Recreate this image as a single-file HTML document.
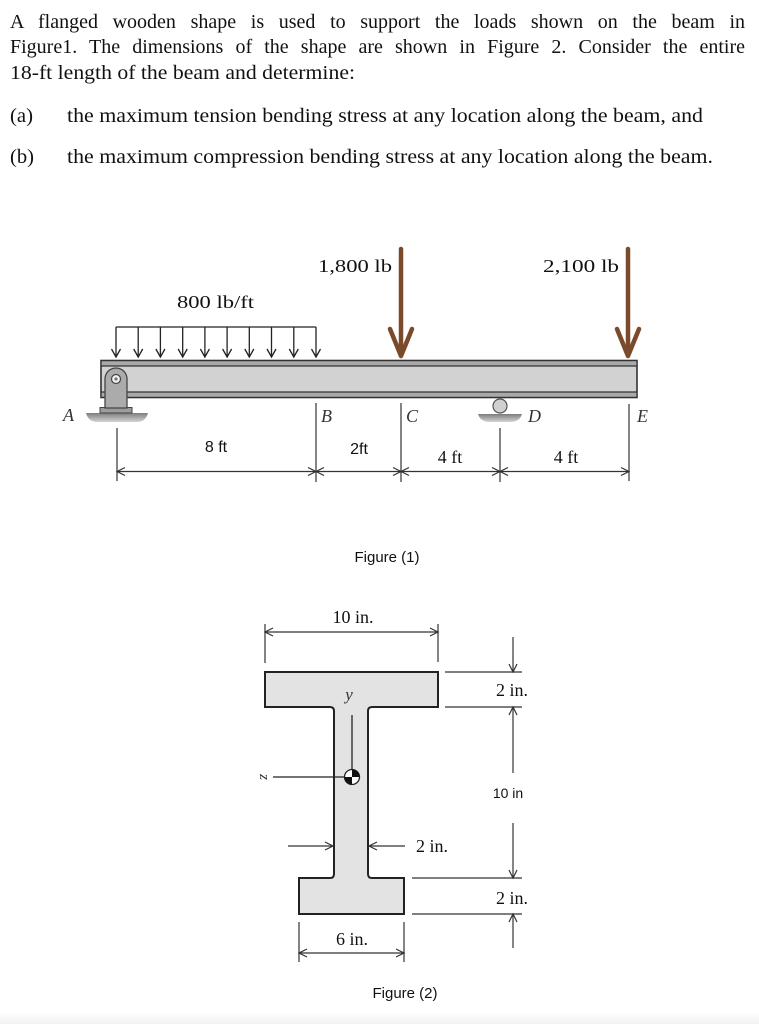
<!DOCTYPE html>
<html><head><meta charset="utf-8"><style>
html,body{margin:0;padding:0;background:#fff;}
svg{display:block;position:absolute;left:0;top:0;}
.s{font-family:"Liberation Serif",serif;fill:#111;}
.ss{font-family:"Liberation Sans",sans-serif;fill:#111;}
.i{font-family:"Liberation Serif",serif;font-style:italic;fill:#333;}
.jl{position:absolute;left:10px;width:735px;font-family:"Liberation Serif",serif;font-size:20px;line-height:20px;color:#111;text-align:justify;text-align-last:justify;white-space:normal;z-index:2;}
</style></head><body>
<div class="jl" style="top:12px;">A flanged wooden shape is used to support the loads shown on the beam in</div>
<div class="jl" style="top:37px;">Figure1. The dimensions of the shape are shown in Figure 2. Consider the entire</div>
<svg width="759" height="1024" viewBox="0 0 759 1024" xmlns="http://www.w3.org/2000/svg">
<defs>
<linearGradient id="gnd" x1="0" y1="0" x2="0" y2="1"><stop offset="0" stop-color="#7d7d7d"/><stop offset="1" stop-color="#d5d5d5"/></linearGradient>
<linearGradient id="bot" x1="0" y1="0" x2="0" y2="1"><stop offset="0" stop-color="#ffffff"/><stop offset="1" stop-color="#f1f1f1"/></linearGradient>
</defs>
<rect x="0" y="1012" width="759" height="12" fill="url(#bot)"/>

<!-- Problem text -->
<text class="s" font-size="20" x="10" y="79" textLength="345" lengthAdjust="spacingAndGlyphs">18-ft length of the beam and determine:</text>
<text class="s" font-size="20" x="10" y="122" textLength="23" lengthAdjust="spacingAndGlyphs">(a)</text>
<text class="s" font-size="20" x="67" y="122" textLength="636" lengthAdjust="spacingAndGlyphs">the maximum tension bending stress at any location along the beam, and</text>
<text class="s" font-size="20" x="10" y="163" textLength="24" lengthAdjust="spacingAndGlyphs">(b)</text>
<text class="s" font-size="20" x="67" y="163" textLength="646" lengthAdjust="spacingAndGlyphs">the maximum compression bending stress at any location along the beam.</text>

<!-- Figure 1 -->
<text class="s" font-size="18" x="318" y="272" textLength="74" lengthAdjust="spacingAndGlyphs">1,800 lb</text>
<text class="s" font-size="18" x="543" y="272" textLength="76" lengthAdjust="spacingAndGlyphs">2,100 lb</text>
<text class="s" font-size="18" x="177" y="308" textLength="77" lengthAdjust="spacingAndGlyphs">800 lb/ft</text>

<!-- distributed load -->
<g stroke="#222" stroke-width="1.3" fill="none">
<line x1="116" y1="327" x2="316" y2="327"/>
<g id="da">
<line x1="116" y1="327" x2="116" y2="357"/>
<polyline points="111.5,349 116,357 120.5,349"/>
</g>
<use href="#da" x="22.2"/><use href="#da" x="44.4"/><use href="#da" x="66.7"/><use href="#da" x="88.9"/>
<use href="#da" x="111.1"/><use href="#da" x="133.3"/><use href="#da" x="155.5"/><use href="#da" x="177.8"/><use href="#da" x="200"/>
</g>

<!-- brown point loads -->
<g stroke="#7a4a2b" stroke-width="4.5" fill="none" stroke-linecap="round" stroke-linejoin="round">
<line x1="401" y1="249" x2="401" y2="354"/>
<polyline points="390,329 401,356 412,329"/>
<line x1="628" y1="249" x2="628" y2="354"/>
<polyline points="617,329 628,356 639,329"/>
</g>

<!-- beam -->
<rect x="101" y="360.5" width="536" height="37" fill="#d2d2d2" stroke="#333" stroke-width="1.6"/>
<rect x="101.8" y="361.5" width="534.4" height="4" fill="#a9a9a9"/>
<rect x="101.8" y="392.5" width="534.4" height="4" fill="#a9a9a9"/>
<line x1="101" y1="366" x2="637" y2="366" stroke="#333" stroke-width="1.3"/>
<line x1="101" y1="392" x2="637" y2="392" stroke="#333" stroke-width="1.3"/>

<!-- pin support A -->
<path d="M86,413 H148 Q146,421 138,422 H96 Q88,421 86,413 Z" fill="url(#gnd)"/>
<rect x="100" y="407.5" width="32" height="5.5" fill="#9c9c9c" stroke="#444" stroke-width="1"/>
<path d="M105,408 V379 A11,11 0 0 1 127,379 V408 Z" fill="#ababab" stroke="#444" stroke-width="1.3"/>
<circle cx="116" cy="379" r="4.5" fill="#f2f2f2" stroke="#444" stroke-width="1.2"/>
<circle cx="116" cy="379" r="1.6" fill="#777"/>

<!-- roller D -->
<circle cx="500" cy="406" r="7" fill="#d0d0d0" stroke="#555" stroke-width="1.2"/>
<path d="M478,414 H522 Q520,421 512,422 H488 Q480,421 478,414 Z" fill="url(#gnd)"/>

<!-- labels -->
<text class="i" font-size="18" x="63" y="421">A</text>
<text class="i" font-size="18" x="321" y="422">B</text>
<text class="i" font-size="18" x="406" y="422">C</text>
<text class="i" font-size="18" x="528" y="422">D</text>
<text class="i" font-size="18" x="637" y="422">E</text>

<!-- dimension lines -->
<g stroke="#333" stroke-width="1.2" fill="none">
<line x1="117" y1="428" x2="117" y2="481"/>
<line x1="316" y1="403" x2="316" y2="482"/>
<line x1="401" y1="403" x2="401" y2="482"/>
<line x1="500" y1="428" x2="500" y2="482"/>
<line x1="629" y1="404" x2="629" y2="481"/>
<line x1="117" y1="471.5" x2="629" y2="471.5"/>
<polyline points="125,467.5 117,471.5 125,475.5"/>
<polyline points="621,467.5 629,471.5 621,475.5"/>
<polyline points="308,467.5 316,471.5 308,475.5"/><polyline points="324,467.5 316,471.5 324,475.5"/>
<polyline points="393,467.5 401,471.5 393,475.5"/><polyline points="409,467.5 401,471.5 409,475.5"/>
<polyline points="492,467.5 500,471.5 492,475.5"/><polyline points="508,467.5 500,471.5 508,475.5"/>
</g>
<text class="ss" font-size="16" x="216" y="452" text-anchor="middle">8 ft</text>
<text class="ss" font-size="16" x="359" y="454" text-anchor="middle">2ft</text>
<text class="s" font-size="18" x="450" y="463" text-anchor="middle">4 ft</text>
<text class="s" font-size="18" x="566" y="463" text-anchor="middle">4 ft</text>

<text class="ss" font-size="15" x="387" y="562" text-anchor="middle">Figure (1)</text>

<!-- Figure 2 -->
<text class="s" font-size="18" x="353" y="623" text-anchor="middle">10 in.</text>
<g stroke="#333" stroke-width="1.2" fill="none">
<line x1="265" y1="624" x2="265" y2="663"/>
<line x1="438" y1="624" x2="438" y2="662"/>
<line x1="265" y1="632" x2="438" y2="632"/>
<polyline points="273,628 265,632 273,636"/>
<polyline points="430,628 438,632 430,636"/>
</g>

<path d="M265,672 H438 V707 H372 Q368,707 368,711 V874 Q368,878 372,878 H404 V914 H299 V878 H330 Q334,878 334,874 V711 Q334,707 330,707 H265 Z" fill="#e3e3e3" stroke="#222" stroke-width="2"/>

<text class="i" font-size="17" x="349" y="700" text-anchor="middle">y</text>
<g stroke="#222" stroke-width="1.3" fill="none">
<line x1="352" y1="715" x2="352" y2="770"/>
<line x1="273" y1="777" x2="344" y2="777"/>
</g>
<circle cx="352" cy="777" r="7.5" fill="#fff" stroke="#222" stroke-width="1.3"/>
<path d="M352,777 V769.5 A7.5,7.5 0 0 1 359.5,777 Z" fill="#111"/>
<path d="M352,777 V784.5 A7.5,7.5 0 0 1 344.5,777 Z" fill="#111"/>
<text class="i" font-size="15" x="0" y="0" text-anchor="middle" transform="translate(260,777) rotate(90)">z</text>

<!-- web thickness -->
<g stroke="#333" stroke-width="1.2" fill="none">
<line x1="288" y1="846" x2="333" y2="846"/>
<polyline points="325,842 333,846 325,850"/>
<line x1="369" y1="846" x2="405" y2="846"/>
<polyline points="377,842 369,846 377,850"/>
</g>
<text class="s" font-size="18" x="416" y="852">2 in.</text>

<!-- right dims -->
<g stroke="#333" stroke-width="1.2" fill="none">
<line x1="445" y1="672" x2="522" y2="672"/>
<line x1="445" y1="707" x2="522" y2="707"/>
<line x1="412" y1="878" x2="522" y2="878"/>
<line x1="412" y1="914" x2="522" y2="914"/>
<line x1="513" y1="637" x2="513" y2="672"/>
<polyline points="509,664 513,672 517,664"/>
<line x1="513" y1="707" x2="513" y2="773"/>
<polyline points="509,715 513,707 517,715"/>
<line x1="513" y1="823" x2="513" y2="878"/>
<polyline points="509,870 513,878 517,870"/>
<line x1="513" y1="914" x2="513" y2="948"/>
<polyline points="509,922 513,914 517,922"/>
</g>
<text class="s" font-size="18" x="512" y="696" text-anchor="middle">2 in.</text>
<text class="ss" font-size="14" x="508" y="798" text-anchor="middle">10 in</text>
<text class="s" font-size="18" x="512" y="904" text-anchor="middle">2 in.</text>

<!-- bottom dim -->
<g stroke="#333" stroke-width="1.2" fill="none">
<line x1="299" y1="922" x2="299" y2="962"/>
<line x1="404" y1="922" x2="404" y2="962"/>
<line x1="299" y1="953" x2="404" y2="953"/>
<polyline points="307,949 299,953 307,957"/>
<polyline points="396,949 404,953 396,957"/>
</g>
<text class="s" font-size="18" x="352" y="945" text-anchor="middle">6 in.</text>

<text class="ss" font-size="15" x="405" y="998" text-anchor="middle">Figure (2)</text>
</svg>
</body></html>
